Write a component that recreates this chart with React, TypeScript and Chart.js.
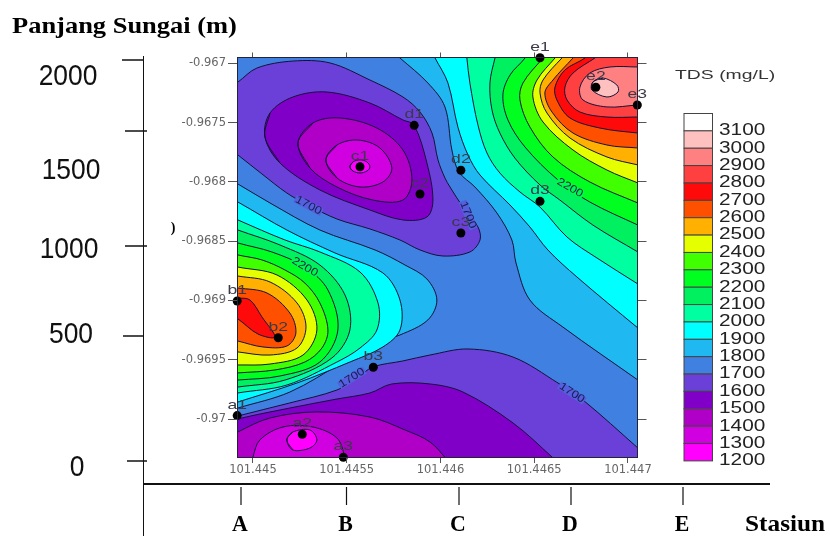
import React, { useEffect, useRef } from "react";
import { Chart, registerables } from "chart.js";

Chart.register(...registerables);

// Map frame (degrees). Contours below are offsets in millionths of a degree from this origin.
const LON0 = 101.445;
const LAT0 = -0.967;
const LON_MIN = 101.444915;
const LON_MAX = 101.447051;
const LAT_MIN = -0.97032;
const LAT_MAX = -0.966951;
const lonTicks = [101.445, 101.4455, 101.446, 101.4465, 101.447];
const latTicks = [-0.967, -0.9675, -0.968, -0.9685, -0.969, -0.9695, -0.97];

// TDS bands: colour of the band that starts at each level
const levels = [1200, 1300, 1400, 1500, 1600, 1700, 1800, 1900, 2000, 2100, 2200, 2300, 2400, 2500, 2600, 2700, 2800, 2900, 3000, 3100];
const bandColors = ["#ff00ff", "#d000e0", "#b000c8", "#8000c8", "#6a40d8", "#4080e0", "#20b8f0", "#00ffff", "#00ffa0", "#00f060", "#00ff20", "#40ff00", "#e6ff00", "#ffb000", "#ff5000", "#ff0a0a", "#ff4040", "#ff8080", "#ffc0c0", "#ffffff"];

type L = number[][];
// North-east high: isolines run from the top edge to the right edge
const ne1800: L = [[704,-154],[784,-45],[933,166],[1024,368],[1061,731],[1099,917],[1184,1043],[1301,1262],[1381,1490],[1403,1684],[1477,1996],[1653,2224],[2053,2671],[2171,2806]];
const ne1900: L = [[928,-171],[971,-45],[1040,166],[1093,537],[1147,773],[1211,942],[1371,1195],[1477,1380],[1573,1574],[1728,1802],[2053,2232],[2171,2384]];
const ne2000: L = [[1131,-196],[1141,-45],[1157,166],[1200,520],[1248,756],[1317,925],[1424,1085],[1531,1212],[1675,1465],[1835,1642],[2053,1861],[2171,1979]];
const ne2100: L = [[1317,-196],[1291,-45],[1264,166],[1275,394],[1317,588],[1397,799],[1531,1026],[1637,1153],[1813,1364],[2053,1591],[2171,1701]];
const ne2200: L = [[1504,-196],[1451,-45],[1371,99],[1333,267],[1360,478],[1451,706],[1627,984],[1797,1170],[2053,1364],[2171,1448]];
const ne2300: L = [[1627,-196],[1547,-45],[1440,166],[1424,309],[1477,537],[1600,790],[1797,1001],[2053,1178],[2171,1254]];
const ne2400: L = [[1691,-196],[1611,-45],[1515,141],[1493,284],[1547,495],[1707,731],[1888,900],[2053,1009],[2171,1085]];
const ne2500: L = [[1744,-196],[1648,-45],[1547,141],[1531,250],[1568,419],[1691,630],[1888,790],[2053,857],[2171,900]];
const ne2600: L = [[1797,-196],[1707,-45],[1600,141],[1557,250],[1595,411],[1707,588],[1888,689],[2053,714],[2171,731]];
const ne2700: L = [[1877,-196],[1771,-45],[1664,56],[1611,200],[1621,309],[1691,461],[1851,546],[2053,588],[2171,605]];
const ne2800: L = [[1957,-196],[1824,-45],[1707,82],[1664,200],[1675,309],[1744,411],[1888,453],[2053,453],[2171,453]];
const ne2900: L = [[2171,31],[2053,31],[1904,31],[1797,82],[1744,200],[1760,309],[1888,368],[2053,352],[2171,352]];
const ne3000: L = [[1813,158],[1867,124],[1941,183],[1947,242],[1888,284],[1808,225]];

// West high: isolines leave and re-enter the left edge
const w1800: L = [[-149,959],[-80,1018],[91,1178],[357,1406],[651,1574],[811,1701],[928,1819],[981,1996],[933,2164],[784,2291],[624,2375],[480,2519],[197,2772],[-80,2907],[-149,2940]];
const w1900: L = [[-149,1111],[-80,1170],[181,1406],[437,1599],[693,1768],[784,1996],[784,2249],[693,2392],[517,2519],[235,2696],[-80,2856],[-149,2890]];
const w2000: L = [[-149,1270],[-80,1321],[171,1490],[357,1591],[571,1760],[667,2021],[661,2249],[571,2401],[448,2519],[181,2713],[-80,2780],[-149,2805]];
const w2100: L = [[-149,1364],[-80,1406],[144,1532],[357,1701],[491,1954],[517,2249],[421,2485],[171,2671],[-80,2730],[-149,2747]];
const w2200: L = [[-149,1473],[-80,1515],[101,1591],[277,1718],[400,1912],[453,2249],[357,2519],[144,2637],[-80,2671],[-149,2680]];
const w2300: L = [[-149,1583],[-80,1616],[48,1658],[171,1743],[277,1853],[357,2021],[400,2249],[368,2401],[277,2519],[117,2586],[-80,2611],[-149,2620]];
const w2400: L = [[-149,1692],[-80,1718],[128,1785],[288,1996],[341,2249],[267,2460],[91,2536],[-80,2544],[-149,2544]];
const w2500: L = [[-149,1776],[-80,1794],[91,1844],[235,2021],[283,2224],[235,2401],[91,2460],[-80,2434],[-149,2417]];
const w2600: L = [[-149,1886],[-80,1895],[75,1937],[197,2106],[229,2274],[181,2384],[53,2392],[-80,2342],[-149,2316]];
const w2700: L = [[-149,1970],[-80,1979],[-16,1996],[48,2139],[117,2308],[27,2283],[-80,2156],[-149,2097]];

// North-west low
const nw1700: L = [[-149,225],[-80,158],[21,40],[213,-19],[411,-3],[624,141],[800,284],[891,411],[955,588],[987,815],[1024,967],[1051,1043],[1120,1212],[1200,1380],[1211,1490],[1157,1591],[1013,1625],[891,1574],[784,1490],[624,1397],[448,1313],[293,1195],[181,1094],[48,933],[-80,773],[-149,689]];
const nw1600: L = [[64,621],[91,419],[213,284],[395,242],[624,335],[800,478],[859,520],[928,841],[960,1153],[928,1296],[800,1321],[624,1237],[357,1068],[144,841]];
const nw1500: L = [[240,672],[320,503],[464,461],[661,546],[800,731],[848,984],[800,1153],[640,1153],[448,1043],[304,883]];
const nw1400: L = [[389,815],[448,689],[560,647],[677,714],[741,883],[693,1001],[571,1043],[448,967]];
const nw1300: L = [[517,874],[533,832],[571,815],[608,832],[624,874],[608,908],[571,925],[533,908]];

// South low
const s1700: L = [[-149,3008],[-80,2974],[197,2864],[448,2755],[555,2654],[640,2561],[800,2510],[944,2460],[1147,2409],[1387,2477],[1627,2696],[1760,2839],[2053,3244],[2171,3413]];
const s1600: L = [[-149,3041],[-80,2999],[197,2907],[448,2831],[624,2780],[741,2704],[944,2704],[1120,2772],[1387,3033],[1595,3320],[1664,3429]];
const s1500: L = [[-149,3176],[-80,3109],[91,2991],[341,2940],[624,2983],[811,3092],[944,3193],[1035,3345],[1077,3445]];
const s1400: L = [[-16,3429],[0,3320],[37,3176],[160,3067],[320,3067],[448,3160],[491,3320],[507,3429]];
const s1300: L = [[181,3176],[213,3109],[304,3092],[341,3176],[304,3244],[213,3261]];

// Sampling stations
const stationNames = ["a1", "a2", "a3", "b1", "b2", "b3", "c1", "c2", "c3", "d1", "d2", "d3", "e1", "e2", "e3"];
const stationLon = [101.444916, 101.445263, 101.445482, 101.444916, 101.445135, 101.445642, 101.445571, 101.445891, 101.446109, 101.44586, 101.446109, 101.446531, 101.446531, 101.446829, 101.44705];
const stationLat = [-0.969971, -0.970128, -0.970322, -0.969004, -0.969314, -0.969563, -0.967872, -0.968102, -0.968431, -0.967523, -0.967902, -0.968164, -0.966953, -0.967202, -0.967352];

// Contour labels [text, dLon, dLat, angle, background]
const contourLabels: [string, number, number, number, string][] = [
  ["1700", 296, 1199, 28, "#5560dc"],
  ["2200", 1691, 1051, 30, "#00f848"],
  ["2200", 277, 1718, 30, "#00f848"],
  ["1700", 528, 2654, -32, "#5560dc"],
  ["1700", 1701, 2780, 33, "#5560dc"],
  ["1700", 1147, 1279, 68, "#5560dc"],
];

// Outer page axes
const lengthLabels = ["2000", "1500", "1000", "500", "0"];
const stasiunNames = ["A", "B", "C", "D", "E"];

const XOUT = 2491;
const YTOP = -534;
const YBOT = 3514;
const closeNE = (l: L): L => [...l, [XOUT, l[l.length - 1][1]], [XOUT, YTOP], [l[0][0], YTOP]];
const closeS = (l: L): L => [...l, [l[l.length - 1][0], YBOT], [l[0][0], YBOT]];
const ring = (l: L): L => [l[l.length - 1], ...l, l[0], l[1]];
const toXY = (l: L) => l.map(([dx, dy]) => ({ x: LON0 + dx * 1e-6, y: LAT0 - dy * 1e-6 }));
const band = (level: number) => bandColors[levels.indexOf(level)];

const layers: [L, number][] = [
  [nw1700, 1600], [ring(nw1600), 1500], [ring(nw1500), 1400], [ring(nw1400), 1300], [ring(nw1300), 1200],
  [closeS(s1700), 1600], [closeS(s1600), 1500], [closeS(s1500), 1400], [closeS(s1400), 1300], [ring(s1300), 1200],
  [closeNE(ne1800), 1800], [closeNE(ne1900), 1900], [closeNE(ne2000), 2000], [closeNE(ne2100), 2100], [closeNE(ne2200), 2200],
  [closeNE(ne2300), 2300], [closeNE(ne2400), 2400], [closeNE(ne2500), 2500], [closeNE(ne2600), 2600], [closeNE(ne2700), 2700],
  [closeNE(ne2800), 2800], [ne2900, 2900], [ring(ne3000), 3000],
  [w1800, 1800], [w1900, 1900], [w2000, 2000], [w2100, 2100], [w2200, 2200], [w2300, 2300], [w2400, 2400], [w2500, 2500], [w2600, 2600], [w2700, 2700],
];

function put(ctx: any, text: string, x: number, y: number, font: string, color: string, sx = 1, align = "center", rot = 0) {
  ctx.save();
  ctx.translate(x, y);
  ctx.rotate((rot * Math.PI) / 180);
  ctx.scale(sx, 1);
  ctx.font = font;
  ctx.fillStyle = color;
  ctx.textAlign = align;
  ctx.textBaseline = "middle";
  ctx.fillText(text, 0, 0);
  ctx.restore();
}

const annotations = {
  id: "annotations",
  afterDraw(chart: any) {
    const ctx = chart.ctx;
    const { x, y } = chart.scales;
    // contour labels
    contourLabels.forEach(([t, dx, dy, a, bg]) => {
      const px = x.getPixelForValue(LON0 + dx * 1e-6);
      const py = y.getPixelForValue(LAT0 - dy * 1e-6);
      ctx.save();
      ctx.translate(px, py);
      ctx.rotate((a * Math.PI) / 180);
      ctx.fillStyle = bg;
      ctx.fillRect(-15, -4, 30, 8);
      ctx.restore();
      put(ctx, t, px, py, "11px 'Liberation Sans'", "#1a1a55", 1.15, "center", a);
    });
    // station names
    stationNames.forEach((n, i) => {
      const px = x.getPixelForValue(stationLon[i]);
      const py = y.getPixelForValue(stationLat[i]);
      put(ctx, n, px, py - 10.5, "13px 'Liberation Sans'", "#3a3a48", 1.35);
    });
    // legend
    const top = 113.5, h = 17.37, left = 684, w = 28.5;
    const count = levels.length;
    for (let i = 0; i < count; i++) {
      const idx = count - 1 - i;
      ctx.fillStyle = bandColors[idx];
      ctx.fillRect(left, top + i * h, w, h);
      ctx.strokeStyle = "#444";
      ctx.lineWidth = 1;
      ctx.strokeRect(left, top + i * h, w, h);
      put(ctx, String(levels[idx]), 719, top + (i + 1) * h, "16px 'Liberation Sans'", "#222", 1.3, "left");
    }
    put(ctx, "TDS (mg/L)", 675, 76, "12.5px 'Liberation Sans'", "#333", 1.55, "left");
    // outer frame: river length axis
    ctx.strokeStyle = "#111";
    ctx.lineWidth = 1;
    ctx.beginPath();
    ctx.moveTo(143.5, 56);
    ctx.lineTo(143.5, 536);
    ctx.stroke();
    ctx.lineWidth = 1.5;
    ([[122, 143, 60], [125, 147, 131], [125, 147, 246], [123, 144, 336], [127, 147, 461]] as number[][]).forEach(([a, b, c]) => {
      ctx.beginPath();
      ctx.moveTo(a, c);
      ctx.lineTo(b, c);
      ctx.stroke();
    });
    const lx = [68, 71, 69, 71, 77];
    const ly = [77, 171, 250, 335, 468];
    lengthLabels.forEach((t, i) => put(ctx, t, lx[i], ly[i], "30px 'Liberation Sans'", "#111", 0.88));
    put(ctx, "Panjang Sungai (m)", 12, 27, "bold 23px 'Liberation Serif'", "#000", 1.15, "left");
    put(ctx, ")", 173, 228, "bold 14px 'Liberation Serif'", "#000", 1);
    // station axis
    ctx.lineWidth = 2;
    ctx.beginPath();
    ctx.moveTo(143, 484);
    ctx.lineTo(770, 484);
    ctx.stroke();
    ctx.lineWidth = 1.2;
    const sx = [241, 346.5, 459, 571, 683];
    stasiunNames.forEach((t, i) => {
      ctx.beginPath();
      ctx.moveTo(sx[i], 487);
      ctx.lineTo(sx[i], 505);
      ctx.stroke();
      put(ctx, t, sx[i] - 1, 525, "bold 23px 'Liberation Serif'", "#000", 0.95);
    });
    put(ctx, "Stasiun", 745, 525, "bold 23px 'Liberation Serif'", "#000", 1.1, "left");
  },
};

const axisBase = {
  type: "linear",
  border: { display: true, color: "#222238", width: 1, z: 1 },
  grid: { display: true, drawOnChartArea: false, drawTicks: true, color: "#555", z: 1 },
};

export default function App() {
  const ref = useRef<HTMLCanvasElement>(null);
  useEffect(() => {
    document.body.style.margin = "0";
    const N = layers.length + 2;
    const datasets: any[] = [
      {
        data: toXY([[-300, -300], [2400, -300], [2400, 3600], [-300, 3600]]),
        showLine: true, fill: "shape", backgroundColor: band(1700), borderWidth: 0, pointRadius: 0, tension: 0, order: N,
      },
      ...layers.map(([l, lev], i) => ({
        data: toXY(l),
        showLine: true,
        fill: "shape",
        backgroundColor: band(lev),
        borderColor: "#12123a",
        borderWidth: 1,
        pointRadius: 0,
        tension: 0.34,
        capBezierPoints: false,
        order: N - 1 - i,
      })),
      {
        data: stationLon.map((v, i) => ({ x: v, y: stationLat[i] })),
        showLine: false,
        pointRadius: 4.5,
        pointBackgroundColor: "#000",
        pointBorderWidth: 0,
        clip: false,
        order: 0,
      },
    ];
    const chart = new Chart(ref.current!, {
      type: "scatter",
      data: { datasets },
      plugins: [annotations],
      options: {
        animation: false,
        responsive: false,
        devicePixelRatio: 1,
        events: [],
        layout: { padding: 0 },
        plugins: { legend: { display: false }, tooltip: { enabled: false }, title: { display: false } },
        elements: { line: { capBezierPoints: false } },
        scales: {
          x: {
            ...axisBase, position: "bottom", min: LON_MIN, max: LON_MAX,
            grid: { ...axisBase.grid, tickLength: 6 },
            afterBuildTicks: (s: any) => { s.ticks = lonTicks.map((value) => ({ value })); },
            afterFit: (s: any) => { s.height = 536 - 457; },
            ticks: { autoSkip: false, maxRotation: 0, padding: 0, color: "#666", font: { family: "'DejaVu Sans'", size: 11.5 }, callback: (v: any) => String(v) },
          },
          y: {
            ...axisBase, position: "left", min: LAT_MIN, max: LAT_MAX,
            grid: { ...axisBase.grid, tickLength: 9 },
            afterBuildTicks: (s: any) => { s.ticks = latTicks.map((value) => ({ value })); },
            afterFit: (s: any) => { s.width = 237; },
            ticks: { autoSkip: false, padding: 2, color: "#666", font: { family: "'DejaVu Sans'", size: 11.5 }, callback: (v: any) => String(v) },
          },
          xTop: {
            ...axisBase, position: "top", min: LON_MIN, max: LON_MAX,
            grid: { ...axisBase.grid, tickLength: 5 },
            afterBuildTicks: (s: any) => { s.ticks = lonTicks.map((value) => ({ value })); },
            afterFit: (s: any) => { s.height = 57.5; },
            ticks: { display: false },
          },
          yRight: {
            ...axisBase, position: "right", min: LAT_MIN, max: LAT_MAX,
            grid: { ...axisBase.grid, tickLength: 9 },
            afterBuildTicks: (s: any) => { s.ticks = latTicks.map((value) => ({ value })); },
            afterFit: (s: any) => { s.width = 830 - 637.5; },
            ticks: { display: false },
          },
        },
      } as any,
    });
    return () => chart.destroy();
  }, []);
  return (
    <div style={{ position: "absolute", left: 0, top: 0, width: 830, height: 536 }}>
      <canvas ref={ref} width={830} height={536} style={{ display: "block" }} />
    </div>
  );
}
